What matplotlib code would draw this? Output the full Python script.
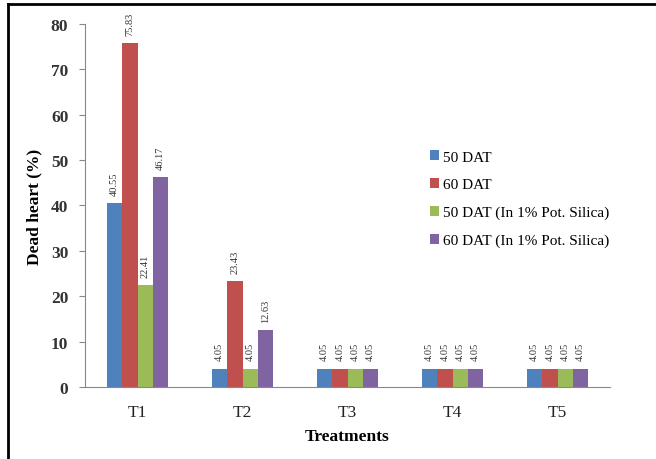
import numpy as np
import matplotlib.pyplot as plt
from matplotlib.lines import Line2D

treatments = ['T1', 'T2', 'T3', 'T4', 'T5']
series_names = ['50 DAT', '60 DAT', '50 DAT (In 1% Pot. Silica)', '60 DAT (In 1% Pot. Silica)']
dat50 = [40.55, 4.05, 4.05, 4.05, 4.05]
dat60 = [75.83, 23.43, 4.05, 4.05, 4.05]
dat50_si = [22.41, 4.05, 4.05, 4.05, 4.05]
dat60_si = [46.17, 12.63, 4.05, 4.05, 4.05]
colors = ['#4F81BD', '#C0504D', '#9BBB59', '#8064A2']

plt.rcParams['font.family'] = ['Liberation Serif', 'DejaVu Serif']

fig = plt.figure(figsize=(6.56, 4.6), dpi=100)
ax = fig.add_axes([0.1296, 0.1565, 0.8004, 0.7892])

x = np.arange(len(treatments))
w = 0.145
for i, vals in enumerate([dat50, dat60, dat50_si, dat60_si]):
    pos = x + (i - 1.5) * w
    ax.bar(pos, vals, w, color=colors[i], label=series_names[i])
    for p, v in zip(pos, vals):
        ax.text(p, v + 1.8, '%.2f' % v, rotation=90, ha='center', va='bottom',
                fontsize=7.5, color='#333333')

ax.set_xlim(-0.5, 4.5)
ax.set_ylim(0, 80)
ax.set_yticks(range(0, 81, 10))
ax.set_xticks(x)
ax.set_xticklabels(treatments, fontsize=12.5, color='#222222')
for t in ax.get_yticklabels():
    t.set_fontsize(12.5)
    t.set_fontweight('bold')
    t.set_color('#333333')
ax.tick_params(axis='x', length=0, pad=12)
ax.tick_params(axis='y', length=4, color='#888888', direction='out', pad=8)
ax.spines['top'].set_visible(False)
ax.spines['right'].set_visible(False)
ax.spines['left'].set_color('#888888')
ax.spines['bottom'].set_color('#888888')
ax.set_ylabel('Dead heart (%)', fontsize=12.5, fontweight='bold', labelpad=6)
ax.set_xlabel('Treatments', fontsize=12.5, fontweight='bold', labelpad=6)

ax.legend(loc='upper left', bbox_to_anchor=(0.63, 0.69), frameon=False,
          fontsize=11, handlelength=0.6, handleheight=0.6, handletextpad=0.3,
          labelspacing=0.95)

# frame lines along the top and left edges
fig.add_artist(Line2D([0.012, 1.0], [0.989, 0.989], transform=fig.transFigure,
                      color='black', linewidth=2))
fig.add_artist(Line2D([0.012, 0.012], [0.0, 0.989], transform=fig.transFigure,
                      color='black', linewidth=2))

fig.savefig('out.png', dpi=100)
